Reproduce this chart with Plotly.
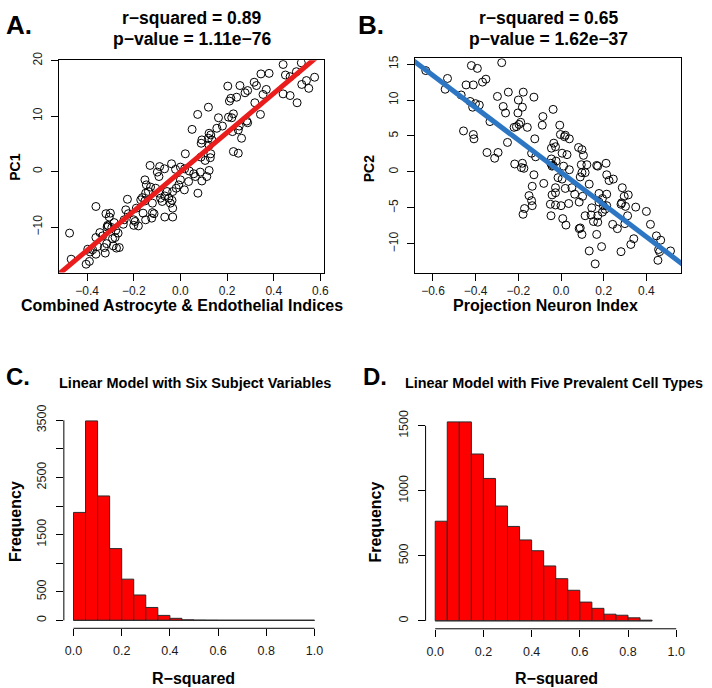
import plotly.graph_objects as go

W, H = 712, 688

# ---------------- data ----------------
# Panel A: Combined Astrocyte & Endothelial Indices (x) vs PC1 (y)
a_x = [0.44, 0.518, 0.575, 0.54, 0.52, 0.55, 0.50, 0.47, 0.44, 0.497, 0.45, 0.47, 0.38, 0.345, 0.316,
       0.326, 0.368, 0.354, 0.319, 0.343, 0.255, 0.203, 0.288, 0.277, 0.241, 0.216, 0.21, 0.22, 0.206,
       0.227, 0.284, 0.288, 0.252, 0.248, 0.223, 0.262, 0.227, 0.248, 0.163, 0.18, 0.156, 0.12, 0.074,
       0.05, 0.123, 0.13, 0.12, 0.092, 0.089, 0.135, 0.123, 0.13, 0.128, 0.123, 0.088, 0.021, 0.106,
       -0.038, -0.021, 0.0, 0.018, 0.038, 0.057, 0.064, 0.085, 0.092, 0.113, 0.075, 0.035, 0.0, -0.007,
       -0.018, 0.017, -0.033, -0.057, -0.067, -0.05, -0.036, -0.043, -0.033, -0.033, -0.067, -0.078,
       -0.085, -0.092, -0.106, -0.092, -0.099, -0.068, -0.089, -0.13, -0.152, -0.146, -0.128, -0.137,
       -0.149, -0.163, -0.152, -0.17, -0.12, -0.12, -0.113, -0.123, -0.149, -0.16, -0.189, -0.194,
       -0.18, -0.2, -0.227, -0.234, -0.223, -0.241, -0.245, -0.284, -0.294, -0.277, -0.267, -0.28,
       -0.305, -0.319, -0.3, -0.312, -0.314, -0.309, -0.291, -0.288, -0.262, -0.274, -0.316, -0.326,
       -0.322, -0.362, -0.362, -0.345, -0.333, -0.355, -0.362, -0.376, -0.397, -0.39, -0.404, -0.475,
       -0.468, -0.387, -0.2]
a_y = [19.3, 19.6, 17.0, 16.4, 15.7, 15.0, 12.4, 13.7, 14.0, 18.0, 17.4, 17.1, 17.7, 17.6, 16.1,
       15.5, 14.8, 13.9, 12.4, 10.3, 15.5, 15.4, 14.6, 14.2, 13.4, 13.2, 12.7, 9.7, 9.8,
       10.4, 9.1, 8.8, 8.2, 7.5, 7.2, 6.0, 3.6, 3.3, 9.7, 8.2, 7.8, 11.6, 10.3,
       7.6, 6.9, 6.6, 6.0, 5.7, 5.1, 5.7, 4.7, 3.2, 2.5, 0.2, 2.6, 3.2, 2.0,
       1.4, 0.4, 0.8, 0.5, 0.1, -0.4, -0.9, -0.1, -1.7, -0.9, -3.9, -1.8, -1.5, -2.4,
       -3.0, -3.3, -3.6, -3.6, -4.4, -4.8, -5.2, -5.7, -6.6, -8.2, -8.2, -5.4,
       -4.8, -3.9, -3.0, -0.9, -0.1, 0.5, 0.9, 1.1, -1.5, -2.4, -2.8, -3.6,
       -3.9, -4.7, -5.3, -5.1, -5.7, -7.4, -7.6, -8.4, -8.7, -7.5, -6.6, -9.0,
       -9.8, -9.7, -5.0, -6.9, -7.6, -8.7, -9.5, -9.2, -10.1, -10.6, -11.1, -11.9,
       -8.2, -7.6, -7.5, -9.7, -10.0, -9.8, -12.1, -13.4, -13.7, -13.8, -13.0, -13.7,
       -14.7, -6.3, -11.9, -11.0, -11.6, -13.5, -14.9, -14.1, -14.0, -16.2, -16.7, -11.1,
       -15.8, -14.5, -8.7]
a_fit = [35.4, -0.05]          # slope, intercept of the fitted line
a_title = ["r\u2212squared = 0.89", "p\u2212value = 1.11e\u221276"]

# Panel B: Projection Neuron Index (x) vs PC2 (y)
b_x = [-0.634, -0.532, -0.543, -0.42, -0.392, -0.278, -0.352, -0.368, -0.445, -0.411, -0.468, -0.426,
       -0.401, -0.383, -0.414, -0.298, -0.247, -0.177, -0.127, -0.271, -0.26, -0.2, -0.181, -0.202,
       -0.189, -0.197, -0.209, -0.22, -0.158, -0.333, -0.085, -0.088, -0.037, -0.006, 0.02, 0.016,
       0.039, -0.457, -0.411, -0.408, -0.251, -0.123, -0.347, -0.295, -0.311, -0.217, -0.186, -0.174,
       -0.181, -0.138, -0.119, -0.127, -0.081, -0.135, -0.15, -0.138, -0.135, -0.171, -0.178, -0.045,
       -0.034, -0.026, -0.045, -0.048, -0.037, -0.023, -0.042, 0.005, 0.028, -0.003, 0.012, 0.039,
       -0.014, 0.005, 0.02, -0.026, -0.026, -0.042, -0.05, -0.026, 0.0, 0.036, -0.047, 0.008, 0.023,
       0.051, 0.064, 0.098, 0.082, 0.098, 0.105, 0.095, 0.121, 0.113, 0.09, 0.132, 0.101, 0.085,
       0.113, 0.09, 0.085, 0.098, 0.132, 0.144, 0.141, 0.152, 0.172, 0.172, 0.167, 0.19, 0.16,
       0.167, 0.172, 0.211, 0.214, 0.225, 0.245, 0.178, 0.194, 0.178, 0.198, 0.206, 0.214, 0.214,
       0.194, 0.242, 0.264, 0.281, 0.287, 0.296, 0.302, 0.284, 0.315, 0.312, 0.299, 0.281, 0.327,
       0.341, 0.35, 0.4, 0.419, 0.447, 0.467, 0.457, 0.454, 0.513, 0.462]
b_y = [14.1, 13.0, 11.5, 14.8, 14.4, 15.2, 12.9, 12.5, 12.1, 12.1, 10.7, 9.8,
       9.5, 9.3, 9.0, 10.5, 11.1, 11.1, 10.4, 9.1, 8.2, 10.0, 9.0, 8.2,
       6.9, 6.6, 6.3, 6.2, 6.2, 7.0, 7.7, 6.5, 8.7, 6.5, 5.1, 4.9,
       4.6, 5.7, 5.2, 4.6, 4.1, 4.6, 2.7, 2.7, 1.9, 1.1, 0.6, 0.5,
       1.2, 2.6, 2.1, -0.4, -1.6, -2.0, -3.3, -4.0, -4.7, -5.1, -5.9, 3.3,
       4.0, 3.5, 1.8, 1.2, 0.9, 1.5, 0.8, 2.6, 2.4, 5.2, 0.8, 0.3,
       -0.8, -1.0, -2.3, -2.2, -2.9, -3.2, -4.5, -4.6, -4.7, -4.4, -6.1, -6.5, -7.4,
       -2.2, -3.1, -0.1, 3.4, 3.1, 2.3, 1.0, 1.0, -0.1, -0.7, -1.7, -3.4, -4.2,
       -6.1, -7.8, -7.9, -8.7, -11.0, -5.0, -6.0, -6.9, -6.1, -7.0, -8.7, -10.4, -12.8,
       0.9, 0.8, 1.2, -0.4, -1.2, -1.0, -3.0, -3.7, -4.2, -4.7, -5.2, -3.1, -4.7,
       -5.6, -7.3, -7.9, -4.5, -2.2, -3.4, -4.8, -4.3, -3.2, -6.1, -7.2, -11.1, -10.1,
       -9.3, -4.9, -5.5, -7.3, -8.9, -9.5, -10.8, -12.3, -11.0, -11.1]
b_fit = [-22.45, -0.06]
b_title = ["r\u2212squared = 0.65", "p\u2212value = 1.62e\u221237"]

# Panels C / D: histograms of R-squared
hist_bin_width = 0.05
c_bin_left = [0.00, 0.05, 0.10, 0.15, 0.20, 0.25, 0.30, 0.35, 0.40, 0.45,
              0.50, 0.55, 0.60, 0.65, 0.70, 0.75, 0.80, 0.85, 0.90, 0.95]
c_counts = [1888, 3489, 2176, 1255, 720, 443, 225, 86, 35, 8,
            3, 1, 0, 0, 0, 0, 0, 0, 0, 0]
d_bin_left = [0.00, 0.05, 0.10, 0.15, 0.20, 0.25, 0.30, 0.35, 0.40,
              0.45, 0.50, 0.55, 0.60, 0.65, 0.70, 0.75, 0.80, 0.85]
d_counts = [766, 1530, 1530, 1283, 1095, 883, 726, 622, 539,
            422, 324, 235, 144, 96, 51, 43, 23, 5]
c_title = "Linear Model with Six Subject Variables"
d_title = "Linear Model with Five Prevalent Cell Types"

# tick values / labels
a_xt = [-0.4, -0.2, 0.0, 0.2, 0.4, 0.6]
a_yt = [-10, 0, 10, 20]
b_xt = [-0.6, -0.4, -0.2, 0.0, 0.2, 0.4]
b_yt = [-10, -5, 0, 5, 10, 15]
h_xt = [0.0, 0.2, 0.4, 0.6, 0.8, 1.0]
c_yt = [0, 500, 1000, 1500, 2000, 2500, 3000, 3500]
c_ytt = ["0", "500", "", "1500", "", "2500", "", "3500"]
d_yt = [0, 500, 1000, 1500]

# ---------------- helpers ----------------
FONT = "Liberation Sans, Arial, Helvetica, sans-serif"
def px(x):
    return x / W
def py(y):
    return 1 - y / H

def fmt(v, dec):
    return f"{v:.{dec}f}".replace("-", "\u2212")

fig = go.Figure()

def scatter_panel(n, xs, ys, fit, xr, line_color):
    xa = "x" if n == 1 else f"x{n}"
    ya = "y" if n == 1 else f"y{n}"
    fig.add_trace(go.Scatter(x=xs, y=ys, mode="markers", xaxis=xa, yaxis=ya,
                             marker=dict(symbol="circle-open", size=8, color="black",
                                         line=dict(width=1, color="black")),
                             showlegend=False, hoverinfo="skip"))
    lx = [xr[0] - 1, xr[1] + 1]
    fig.add_trace(go.Scatter(x=lx, y=[fit[0] * v + fit[1] for v in lx], mode="lines",
                             xaxis=xa, yaxis=ya, line=dict(color=line_color, width=5),
                             showlegend=False, hoverinfo="skip"))

def hist_panel(n, lefts, counts, color="#ff0000"):
    xa = f"x{n}"; ya = f"y{n}"
    fig.add_trace(go.Bar(x=[l + hist_bin_width / 2 for l in lefts], y=counts, width=hist_bin_width,
                         xaxis=xa, yaxis=ya,
                         marker=dict(color=color, line=dict(color="#2b2b2b", width=1)),
                         showlegend=False, hoverinfo="skip"))
    # outline of empty bins along zero
    fig.add_shape(type="line", xref=xa, yref=ya, x0=lefts[0], x1=lefts[-1] + hist_bin_width,
                  y0=0, y1=0, line=dict(color="#2b2b2b", width=1))

a_xr = [-0.522, 0.614]; a_yr = [-18.2, 20.05]
b_xr = [-0.684, 0.563]; b_yr = [-14.0, 15.8]
scatter_panel(1, a_x, a_y, a_fit, a_xr, "#ea1c1c")
scatter_panel(2, b_x, b_y, b_fit, b_xr, "#2c76c3")
hist_panel(3, c_bin_left, c_counts)
hist_panel(4, d_bin_left, d_counts)

tickfont = dict(family=FONT, size=12, color="#1a1a1a")

def box_axis(dom, rng, tv, tt, anchor, is_y=False):
    d = dict(domain=dom, range=rng, tickvals=tv, ticktext=tt, anchor=anchor,
             showgrid=False, zeroline=False, showline=True, mirror=True,
             linecolor="black", linewidth=1, ticks="outside", ticklen=7,
             tickcolor="black", tickwidth=1, tickfont=tickfont)
    if is_y:
        d["tickangle"] = -90
        d["ticklabelstandoff"] = 4
    else:
        d["ticklabelstandoff"] = 0
    return d

def open_axis(dom, rng, tv, tt, anchor, is_y=False):
    d = dict(domain=dom, range=rng, tickvals=tv, ticktext=tt, anchor=anchor,
             showgrid=False, zeroline=False, showline=False,
             ticks="outside", ticklen=7, tickcolor="black", tickwidth=1,
             tickfont=dict(family=FONT, size=12.5, color="#1a1a1a"))
    d["ticklabelstandoff"] = 5 if is_y else 4
    if is_y:
        d["tickangle"] = -90
    return d

c_ymax = max(c_counts); d_ymax = max(d_counts)
h_xr = [-0.04, 1.04]

fig.update_layout(
    width=W, height=H, margin=dict(l=0, r=0, t=0, b=0),
    paper_bgcolor="white", plot_bgcolor="white",
    xaxis=box_axis([px(59), px(326)], a_xr, a_xt, [fmt(v, 1) for v in a_xt], "y"),
    yaxis=box_axis([py(267), py(52)], a_yr, a_yt, [fmt(v, 0) for v in a_yt], "x", True),
    xaxis2=box_axis([px(418), px(686)], b_xr, b_xt, [fmt(v, 1) for v in b_xt], "y2"),
    yaxis2=box_axis([py(267), py(50)], b_yr, b_yt, [fmt(v, 0) for v in b_yt], "x2", True),
    xaxis3=open_axis([px(64.3), px(326.4)], h_xr, h_xt, [fmt(v, 1) for v in h_xt], "y3"),
    yaxis3=open_axis([py(627.5), py(409.3)], [-0.04 * c_ymax, 1.04 * c_ymax], c_yt, c_ytt, "x3", True),
    xaxis4=open_axis([px(428.6), px(690.7)], h_xr, h_xt, [fmt(v, 1) for v in h_xt], "y4"),
    yaxis4=open_axis([py(628), py(410.3)], [-0.04 * d_ymax, 1.04 * d_ymax], d_yt,
                     [str(v) for v in d_yt], "x4", True),
)

# R-style detached axis lines for the histograms (first to last tick)
for n, yt in ((3, c_yt), (4, d_yt)):
    fig.add_shape(type="line", xref=f"x{n}", yref=f"y{n} domain", x0=h_xt[0], x1=h_xt[-1],
                  y0=0, y1=0, line=dict(color="black", width=1))
    fig.add_shape(type="line", xref=f"x{n} domain", yref=f"y{n}", x0=0, x1=0,
                  y0=yt[0], y1=yt[-1], line=dict(color="black", width=1))

def ann(text, x, y, size, angle=0, bold=True, family=FONT):
    fig.add_annotation(text=f"<b>{text}</b>" if bold else text, x=px(x), y=py(y),
                       xref="paper", yref="paper", showarrow=False, xanchor="center",
                       yanchor="middle", textangle=angle, borderpad=0,
                       font=dict(family=family, size=size, color="black"))

ann("A.", 19, 16, 26)
ann("B.", 374, 16, 26)
ann("C.", 18, 372, 24)
ann("D.", 378, 372, 24)
ann(a_title[0], 193, 9, 17.5)
ann(a_title[1], 193, 30, 17.5)
ann(b_title[0], 552, 9, 17.5)
ann(b_title[1], 552, 30, 17.5)
ann("Combined Astrocyte &amp; Endothelial Indices", 183, 300, 16)
ann("Projection Neuron Index", 549, 300, 16)
ann("PC1", 15, 160, 14, -90)
ann("PC2", 371, 162, 14, -90)
ann(c_title, 196, 379, 14.5)
ann(d_title, 558, 379, 14.4)
ann("Frequency", 15, 519, 16, -90)
ann("Frequency", 378, 520, 16, -90)
ann("R\u2212squared", 195, 678, 16)
ann("R\u2212squared", 560, 678, 16)

fig.write_html("out.html", config={"displayModeBar": False},
               post_script="document.body.style.margin='0px';")
